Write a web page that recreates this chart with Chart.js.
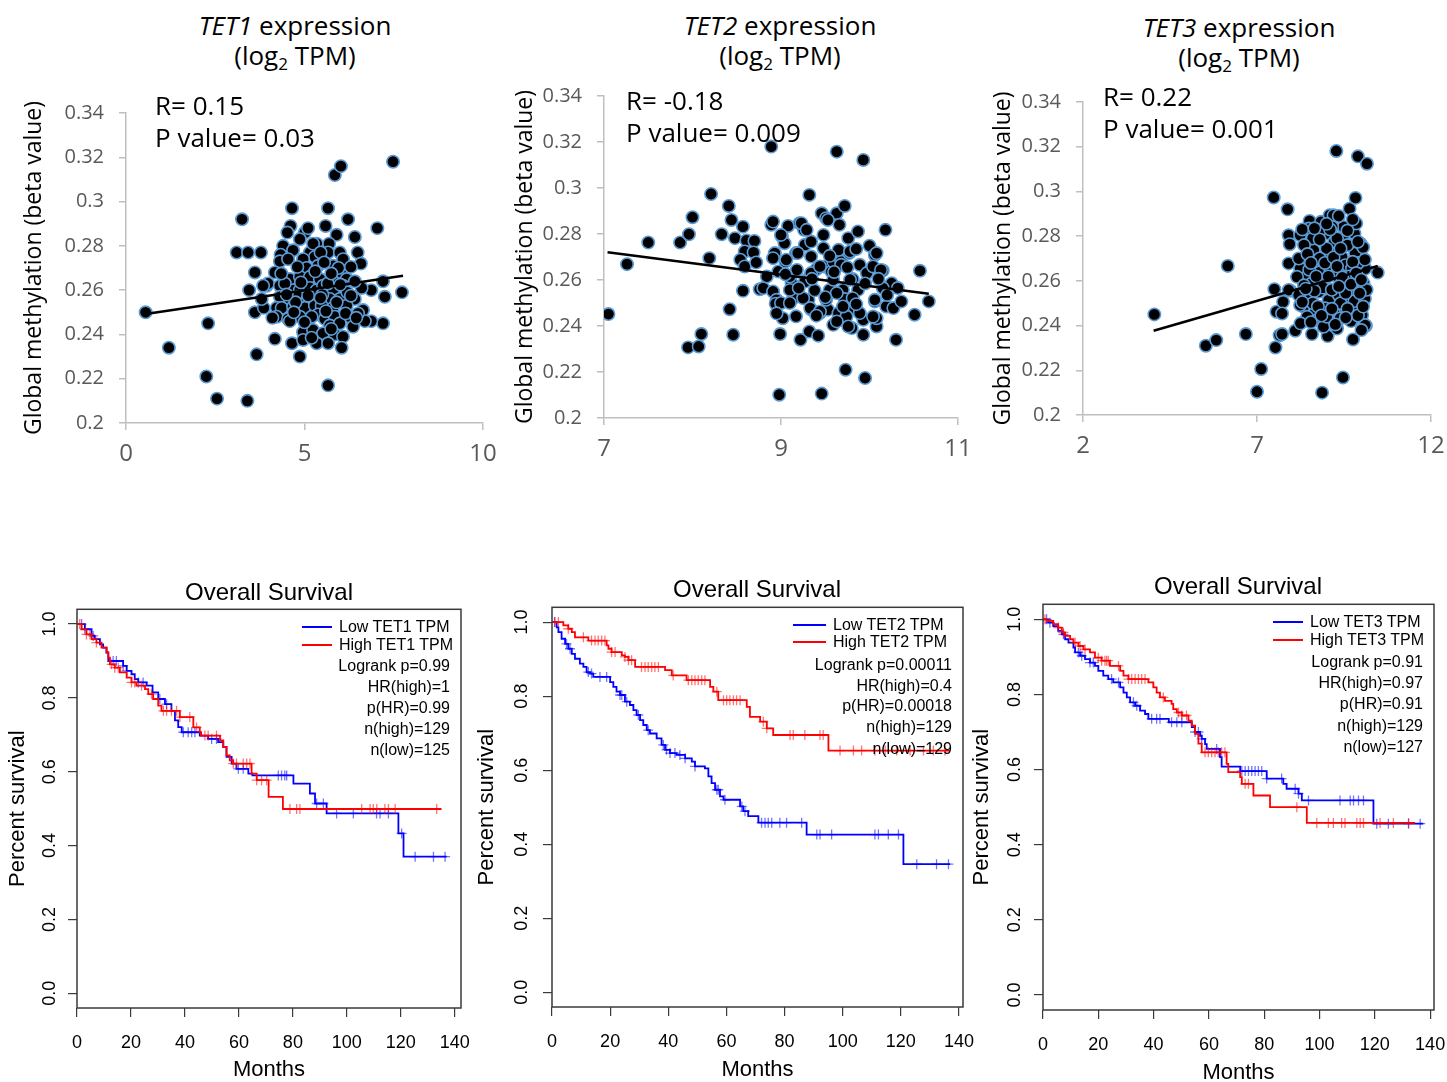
<!DOCTYPE html>
<html>
<head>
<meta charset="utf-8">
<title>TET expression, global methylation and overall survival</title>
<script src="https://cdn.jsdelivr.net/npm/chart.js"></script>
<style>
  html, body { margin: 0; padding: 0; background: #fff; width: 1447px; height: 1082px; overflow: hidden; }
  canvas { position: absolute; }
  .txt { position: absolute; white-space: nowrap; color: #000; }
  .sc { font-family: 'Open Sans', sans-serif; }
  .km { font-family: 'Liberation Sans', Arial, sans-serif; }
  .head { font-size: 26px; line-height: 30px; text-align: center; width: 300px; }
  .head sub { font-size: 17px; vertical-align: -5px; line-height: 0; }
  .stat { font-size: 26px; line-height: 32px; }
  .kmtitle { font-size: 24px; line-height: 28px; text-align: center; width: 300px; }
  .leg { font-size: 16px; line-height: 20px; }
</style>
</head>
<body>

<div class="txt sc head" style="left:145px; top:10px;"><i>TET1</i> expression<br>(log<sub>2</sub> TPM)</div>
<div class="txt sc head" style="left:630px; top:10px;"><i>TET2</i> expression<br>(log<sub>2</sub> TPM)</div>
<div class="txt sc head" style="left:1089px; top:12px;"><i>TET3</i> expression<br>(log<sub>2</sub> TPM)</div>

<canvas id="sc1"></canvas>
<canvas id="sc2"></canvas>
<canvas id="sc3"></canvas>
<canvas id="km1"></canvas>
<canvas id="km2"></canvas>
<canvas id="km3"></canvas>

<div class="txt sc stat" style="left:155px; top:89px;">R= 0.15<br>P value= 0.03</div>
<div class="txt sc stat" style="left:626px; top:84px;">R= -0.18<br>P value= 0.009</div>
<div class="txt sc stat" style="left:1103px; top:80px;">R= 0.22<br>P value= 0.001</div>

<div class="txt km kmtitle" style="left:119px; top:578px;">Overall Survival</div>
<div class="txt km kmtitle" style="left:607px; top:575px;">Overall Survival</div>
<div class="txt km kmtitle" style="left:1088px; top:572px;">Overall Survival</div>

<script>
// ---- methylation vs expression ----
const methTicks = [0.2, 0.22, 0.24, 0.26, 0.28, 0.3, 0.32, 0.34];
const tet1Ticks = [0, 5, 10];
const tet2Ticks = [7, 9, 11];
const tet3Ticks = [2, 7, 12];

const tet1Expr = [0.55,1.2,2.3,2.25,2.55,3.4,3.25,3.1,3.42,3.78,3.66,3.61,3.45,3.61,3.86,3.94,4.17,4.65,4.87,5.66,
  5.85,6.02,7.48,7.04,6.22,4.65,5.66,7.73,7.25,7.2,7.2,6.87,6.87,6.6,4.61,4.52,5.01,5.1,5.59,5.9,
  6.41,4.87,5.34,5.69,5.66,4.4,4.68,4.33,6.49,5.15,5.29,5.99,6.08,6.58,4.31,4.54,4.96,5.06,5.38,5.8,
  4.17,4.59,4.87,5.15,5.43,5.79,6.04,6.18,3.98,3.84,4.31,4.68,4.87,5.15,5.34,5.52,5.8,6.08,6.41,3.8,
  4.31,4.59,4.82,5.06,5.34,5.71,5.99,6.41,4.22,4.36,4.68,5.01,5.29,5.48,5.8,6.18,6.64,4.22,4.54,4.87,
  5.38,5.57,5.85,6.27,6.69,4.59,5.1,5.71,5.99,6.36,4.96,5.24,5.52,5.85,6.08,4.96,5.34,5.66,6.04,5.24,
  5.5,5.65,5.2,4.75,6.2,5.95,4.45,5.45,4.1,6.5,
  4.5,4.7,4.9,5.1,5.3,5.45,5.6,5.75,5.9,6.0,6.15,6.3,4.35,5.0,5.55,6.3,4.8,5.2,5.75,6.45];
const tet1Meth = [0.250,0.234,0.245,0.221,0.211,0.210,0.292,0.277,0.277,0.277,0.231,0.268,0.260,0.250,0.252,0.262,0.238,0.236,0.230,0.217,
  0.312,0.316,0.318,0.288,0.292,0.297,0.297,0.259,0.257,0.264,0.245,0.246,0.260,0.261,0.289,0.286,0.286,0.288,0.289,0.285,
  0.284,0.283,0.281,0.281,0.277,0.280,0.278,0.276,0.277,0.277,0.275,0.277,0.274,0.272,0.273,0.274,0.274,0.270,0.271,0.271,
  0.268,0.265,0.266,0.266,0.265,0.265,0.268,0.265,0.263,0.262,0.262,0.260,0.260,0.261,0.260,0.262,0.260,0.262,0.264,0.256,
  0.257,0.256,0.257,0.255,0.254,0.256,0.256,0.256,0.252,0.252,0.2525,0.252,0.253,0.253,0.252,0.253,0.251,0.248,0.247,0.248,
  0.249,0.247,0.248,0.248,0.246,0.246,0.244,0.244,0.245,0.2435,0.241,0.242,0.2405,0.240,0.239,0.2375,0.236,0.236,0.234,0.281,
  0.258,0.263,0.248,0.2545,0.259,0.270,0.263,0.277,0.2475,0.2495,
  0.258,0.250,0.2635,0.2575,0.2685,0.2565,0.2505,0.2675,0.2545,0.2625,0.2495,0.2575,0.2675,0.2455,0.2725,0.2705,0.2705,0.2385,0.2425,0.2475];
const tet1TrendX = [0.55, 7.76];
const tet1TrendY = [0.2492, 0.2665];

const tet2Expr = [7.05,7.26,7.5,7.86,7.96,8.0,7.95,8.07,8.1,8.19,8.21,8.33,8.41,8.44,8.42,8.46,8.48,8.57,8.57,8.61,
  8.7,8.59,8.69,8.54,8.59,8.72,8.76,8.8,8.89,8.89,8.91,8.84,8.93,8.91,8.97,8.95,8.94,8.99,8.98,9.02,
  9.01,9.04,9.05,9.08,9.12,9.14,9.17,9.17,9.17,9.22,9.21,9.26,9.27,9.29,9.31,9.32,9.32,9.34,9.34,9.38,
  9.4,9.42,9.44,9.46,9.46,9.48,9.48,9.51,9.49,9.53,9.55,9.57,9.59,9.59,9.59,9.63,9.63,9.66,9.68,9.72,
  9.7,9.72,9.73,9.73,9.76,9.77,9.8,9.81,9.83,9.87,9.87,9.89,9.93,9.93,9.95,9.93,9.97,10.0,10.06,10.06,
  10.08,10.08,10.15,10.18,10.19,10.25,10.27,10.3,10.32,10.36,10.51,10.57,10.67,9.1,9.18,9.27,9.34,9.44,9.68,9.78,
  10.04,10.13,9.1,9.25,9.51,9.63,9.81,10.06,10.15,9.0,9.1,9.33,9.44,9.65,9.74,9.89,10.04,9.63,9.76,8.91,
  9.06,9.19,9.34,9.65,9.78,10.08,9.53,9.0,9.23,9.29,
  9.2,9.35,9.5,9.6,9.75,9.85,9.95,10.1,9.4,9.55,9.85,9.05,8.95,10.2,9.7];
const tet2Meth = [0.2452,0.2669,0.2763,0.2763,0.2799,0.2873,0.2307,0.2311,0.2365,0.2695,0.2974,0.2799,0.2922,0.2861,0.2473,0.2362,0.2782,0.2832,0.2553,0.2772,
  0.277,0.2724,0.272,0.2688,0.2659,0.2676,0.256,0.2565,0.318,0.284,0.2854,0.2615,0.2717,0.255,0.2637,0.2514,0.2497,0.2365,0.2101,0.2434,
  0.2789,0.276,0.268,0.2835,0.2586,0.2521,0.2442,0.2717,0.2637,0.234,0.2847,0.2818,0.2753,0.2601,0.2514,0.297,0.2376,0.2702,0.2471,0.2555,
  0.2647,0.2358,0.2456,0.2106,0.289,0.2796,0.2738,0.2869,0.2659,0.2471,0.2557,0.2637,0.268,0.2601,0.2405,0.3158,0.289,0.284,0.268,0.2922,
  0.2557,0.2517,0.2442,0.221,0.2782,0.2717,0.2391,0.2604,0.2478,0.2811,0.2557,0.2666,0.3122,0.2362,0.2174,0.2427,0.263,0.2749,0.2709,0.2507,
  0.2398,0.2434,0.2641,0.2818,0.2485,0.2586,0.2478,0.234,0.2565,0.2507,0.2449,0.264,0.2507,0.2615,0.2644,0.2593,0.263,0.2659,0.2666,0.2601,
  0.2659,0.2644,0.2557,0.2521,0.2514,0.2543,0.2521,0.2514,0.2565,0.25,0.25,0.2478,0.2463,0.2456,0.2441,0.2456,0.2441,0.242,0.2398,0.2695,
  0.2688,0.2717,0.2767,0.2731,0.2724,0.2717,0.2861,0.2796,0.2847,0.2818,
  0.2565,0.2605,0.2525,0.2635,0.2655,0.2495,0.2585,0.2605,0.2445,0.2705,0.2735,0.2625,0.2455,0.2535,0.2485];
const tet2TrendX = [7.04, 10.67];
const tet2TrendY = [0.2721, 0.254];

const tet3Expr = [4.05,5.53,5.83,6.16,6.68,7.0,7.12,7.48,7.5,7.56,7.53,7.65,7.72,7.75,7.88,7.91,7.96,8.1,8.87,9.28,
  9.9,10.16,9.83,9.66,9.47,9.76,10.13,10.47,8.58,9.03,7.91,7.94,8.24,8.51,8.84,9.09,9.2,8.49,8.7,9.01,
  9.22,9.49,9.8,9.85,8.63,9.06,9.44,9.82,9.97,8.39,8.77,9.16,9.54,9.73,10.02,8.24,8.44,8.82,9.11,9.39,
  9.63,9.92,10.11,8.58,8.87,9.2,9.49,9.78,10.06,8.44,8.77,9.06,9.35,9.63,9.97,8.34,8.68,8.96,9.25,9.54,
  9.82,8.44,8.72,9.11,9.39,9.73,10.02,8.91,9.3,10.11,7.72,8.24,7.91,8.2,8.15,9.49,9.16,8.82,8.3,8.6,
  9.0,9.3,9.6,9.9,8.5,8.9,9.25,9.5,9.8,10.1,8.6,9.0,9.4,9.7,8.8,9.1,9.35,10.05,10.15,8.35,
  8.25,10.0,9.65,9.95,8.65,9.15,
  8.2,8.35,8.45,8.55,8.7,8.75,8.85,8.95,9.05,9.15,9.2,9.3,9.45,9.55,9.6,9.7,9.75,9.85,9.9,10.0,
  10.05,10.1,8.4,8.55,8.8,9.0,9.4,9.6,9.75,8.65,9.25,9.55,8.3,9.35,9.9];
const tet3Meth = [0.245,0.231,0.2335,0.2667,0.2362,0.2104,0.2206,0.2973,0.2563,0.2462,0.2302,0.2357,0.2362,0.2506,0.292,0.2678,0.2556,0.2377,0.21,0.3181,
  0.3157,0.3124,0.2971,0.2923,0.2168,0.2338,0.2399,0.2637,0.2362,0.2353,0.2804,0.2764,0.2804,0.2868,0.2864,0.2894,0.2893,0.2834,0.2782,0.2812,
  0.2774,0.2804,0.2812,0.2857,0.2737,0.273,0.2707,0.2723,0.2767,0.2693,0.2693,0.2678,0.267,0.2655,0.2648,0.2655,0.2618,0.264,0.2648,0.2626,
  0.2611,0.2603,0.2655,0.2589,0.2596,0.2559,0.2589,0.2544,0.2589,0.2529,0.2551,0.2514,0.2536,0.2506,0.2492,0.2484,0.2469,0.2477,0.2462,0.2477,
  0.2462,0.2439,0.2424,0.2417,0.2432,0.2424,0.2447,0.2395,0.2387,0.2402,0.2454,0.2492,0.2559,0.2536,0.2618,0.2841,0.2841,0.2827,0.283,0.279,
  0.2745,0.279,0.276,0.268,0.265,0.257,0.2625,0.258,0.251,0.252,0.25,0.244,0.25,0.242,0.27,0.283,0.289,0.275,0.256,0.258,
  0.241,0.238,0.262,0.2545,0.2555,0.2475,
  0.270,0.276,0.272,0.268,0.262,0.2485,0.2445,0.268,0.262,0.256,0.2705,0.2665,0.2615,0.2545,0.2475,0.2585,0.2685,0.2635,0.2445,0.2605,
  0.2485,0.2695,0.2565,0.2415,0.2785,0.2855,0.2745,0.2825,0.2875,0.2835,0.2405,0.2435,0.2505,0.2575,0.2775];
const tet3TrendX = [4.03, 10.47];
const tet3TrendY = [0.2377, 0.2667];

// ---- overall survival (Kaplan-Meier) ----
const monthTicks = [0, 20, 40, 60, 80, 100, 120, 140];
const survTicks = [0, 0.2, 0.4, 0.6, 0.8, 1.0];

const km1LowTime = [0,2.9,5.4,6.6,8.5,9.7,10.9,11.6,17.1,18.4,20.2,21.4,22.7,25.8,28.0,30.1,32.6,35.0,36.3,37.5,38.8,45.5,48.6,52.3,54.2,55.4,57.3,59.1,63.5,65.0,80.2,86.3,88.2,92.5,119.1,121.0,137.0];
const km1LowSurv = [1,0.986,0.968,0.959,0.945,0.936,0.923,0.900,0.887,0.873,0.864,0.851,0.842,0.833,0.815,0.797,0.783,0.765,0.739,0.721,0.707,0.698,0.689,0.680,0.667,0.640,0.622,0.608,0.595,0.590,0.568,0.541,0.514,0.487,0.433,0.370,0.370];
const km1LowCensor = [1.7,2.9,6.0,13.4,14.6,17.1,18.4,22.7,24.5,30.7,33.2,39.4,41.2,42.5,43.7,49.9,51.7,59.8,61.6,74.6,75.8,77.0,77.7,88.8,91.3,96.2,102.4,111.0,112.3,115.4,120.3,125.3,132.1,136.4];
const km1HighTime = [0,1.7,3.5,5.4,7.2,9.1,11.0,11.6,12.2,14.0,15.9,18.4,20.2,22.0,25.2,26.4,28.2,30.1,31.3,38.1,43.1,45.5,46.0,53.0,54.2,55.4,56.6,57.9,64.7,66.6,71.0,76.3,135.0];
const km1HighSurv = [1,0.986,0.972,0.959,0.950,0.936,0.923,0.909,0.891,0.882,0.869,0.855,0.842,0.833,0.824,0.810,0.797,0.779,0.765,0.748,0.720,0.707,0.698,0.685,0.667,0.644,0.631,0.622,0.595,0.577,0.532,0.499,0.499];
const km1HighCensor = [1.0,3.5,4.8,7.2,12.8,14.0,15.3,20.2,21.4,23.9,27.6,32.0,33.2,35.0,36.9,38.1,41.8,44.3,47.4,48.6,51.7,57.9,59.1,61.6,62.9,64.1,66.6,68.4,70.3,78.9,81.4,82.6,105.5,108.6,109.8,111.1,114.1,115.4,117.9,133.3];
const km1Stats = ['Logrank p=0.99', 'HR(high)=1', 'p(HR)=0.99', 'n(high)=129', 'n(low)=125'];

const km2LowTime = [0,1.6,2.2,3.3,4.5,5.6,6.8,7.9,9.6,10.8,11.9,13.1,14.2,20.0,21.1,22.2,23.4,25.1,26.8,28.0,29.1,30.3,31.4,32.6,33.7,36.0,37.7,38.9,40.6,42.9,45.8,48.1,49.2,52.6,53.8,54.9,56.1,57.8,59.0,64.7,65.8,67.5,71.0,87.6,120.9,137.0];
const km2LowSurv = [1,0.986,0.973,0.955,0.941,0.928,0.914,0.901,0.888,0.879,0.865,0.861,0.852,0.838,0.825,0.812,0.803,0.785,0.776,0.762,0.749,0.735,0.722,0.708,0.699,0.686,0.668,0.655,0.646,0.641,0.632,0.623,0.610,0.605,0.583,0.565,0.547,0.529,0.520,0.502,0.489,0.476,0.458,0.426,0.346,0.346];
const km2LowCensor = [0.9,5.0,6.2,12.5,13.6,16.5,18.8,23.4,24.0,25.7,29.7,33.1,38.3,39.4,40.6,42.3,44.0,45.8,49.2,56.7,57.2,59.5,65.3,66.4,72.1,73.3,74.4,75.6,78.4,80.7,85.9,91.1,92.2,96.2,111.1,112.3,115.7,119.2,125.5,132.3,136.4];
const km2HighTime = [0,3.9,5.6,6.8,7.9,12.5,18.8,19.4,20.5,24.0,25.1,26.3,28.6,38.9,41.2,46.3,54.4,55.5,57.2,67.0,68.1,71.6,73.9,76.1,95.1,137.0];
const km2HighSurv = [1,0.991,0.982,0.973,0.959,0.950,0.937,0.928,0.919,0.910,0.906,0.897,0.879,0.870,0.856,0.843,0.825,0.812,0.789,0.771,0.744,0.731,0.713,0.695,0.653,0.653];
const km2HighCensor = [1.0,2.2,5.6,10.8,13.6,14.8,15.9,17.1,18.2,20.5,21.7,25.1,26.3,27.4,30.8,32.0,33.1,34.3,35.4,36.6,41.7,46.9,48.1,49.2,50.3,51.5,52.6,56.7,59.0,60.1,61.2,62.4,63.5,64.7,72.7,73.9,81.9,83.0,87.0,92.2,93.3,99.1,103.7,106.5,111.1,114.6,118.6,123.2,127.8,131.2,135.2];
const km2Stats = ['Logrank p=0.00011', 'HR(high)=0.4', 'p(HR)=0.00018', 'n(high)=129', 'n(low)=129'];

const km3LowTime = [0,1.9,3.7,5.5,6.8,8.0,9.2,11.0,11.6,13.4,15.2,17.0,18.8,20.0,21.8,23.6,25.4,27.9,29.1,30.3,31.5,33.3,35.1,36.9,38.1,45.5,53.8,55.0,56.8,57.4,58.6,59.2,64.0,64.6,71.3,80.9,86.9,88.1,92.4,93.6,119.5,137.5];
const km3LowSurv = [1,0.991,0.982,0.969,0.960,0.947,0.938,0.925,0.912,0.903,0.894,0.885,0.876,0.863,0.850,0.841,0.832,0.819,0.805,0.792,0.779,0.770,0.757,0.748,0.735,0.726,0.713,0.700,0.690,0.682,0.668,0.655,0.633,0.608,0.596,0.576,0.562,0.549,0.536,0.518,0.456,0.456];
const km3LowCensor = [1.3,2.5,7.4,12.8,14.0,17.0,18.2,24.8,27.3,32.7,33.9,39.3,41.1,42.3,46.5,48.4,50.2,55.0,56.2,57.4,62.8,71.9,73.1,74.3,75.5,76.7,77.9,79.1,80.9,86.3,91.2,92.4,96.0,107.4,111.1,112.3,114.1,115.9,120.7,124.9,132.2,136.4];
const km3HighTime = [0,1.3,3.7,5.5,6.8,8.0,9.8,11.0,12.8,14.6,17.0,18.8,21.2,24.2,27.9,29.1,30.9,38.1,39.9,41.1,42.3,44.1,46.5,47.1,48.4,50.2,52.6,53.8,55.0,56.2,57.4,66.4,67.0,71.3,71.9,76.1,82.1,95.4,134.6];
const km3HighSurv = [1,0.996,0.987,0.978,0.965,0.956,0.947,0.938,0.929,0.920,0.912,0.898,0.890,0.876,0.863,0.850,0.841,0.832,0.819,0.805,0.792,0.783,0.775,0.761,0.752,0.744,0.730,0.717,0.695,0.669,0.646,0.615,0.593,0.580,0.562,0.531,0.500,0.458,0.458];
const km3HighCensor = [0.7,5.5,7.4,11.6,13.4,15.2,20.0,21.2,22.4,23.0,23.6,27.3,30.9,32.1,33.3,34.5,35.7,36.9,43.5,49.0,50.2,51.9,58.6,59.8,61.0,62.2,63.4,64.6,65.8,73.1,74.3,91.8,99.0,103.2,105.0,108.0,109.2,113.5,114.7,115.9,121.9,126.7,132.2];
const km3Stats = ['Logrank p=0.91', 'HR(high)=0.97', 'p(HR)=0.91', 'n(high)=129', 'n(low)=127'];

const LOW_BLUE = '#0000ff';
const HIGH_RED = '#ff0000';

function setCanvas(cv, left, top, right, bottom) {
  cv.style.left = left + 'px';
  cv.style.top = top + 'px';
  cv.width = right - left;
  cv.height = bottom - top;
}

function scatterPanel(id, box, yAxisW, xs, ys, trendX, trendY, xTicks, yTitle) {
  const cv = document.getElementById(id);
  // top padding must cover half a tick label plus the tick padding
  const padTop = 28, padRight = 30, xAxisH = 50;
  setCanvas(cv, box.left - yAxisW, box.top - padTop, box.right + padRight, box.bottom + xAxisH);

  const axisGrey = '#bfbfbf';
  new Chart(cv, {
    type: 'scatter',
    data: {
      datasets: [
        {
          data: trendX.map((x, i) => ({ x, y: trendY[i] })),
          showLine: true,
          borderColor: '#000',
          borderWidth: 2.6,
          pointRadius: 0,
          order: 0
        },
        {
          data: xs.map((x, i) => ({ x, y: ys[i] })),
          pointRadius: 6.2,
          pointBackgroundColor: '#000',
          pointBorderColor: '#5b9bd5',
          pointBorderWidth: 1.6,
          order: 1
        }
      ]
    },
    options: {
      responsive: false,
      animation: false,
      events: [],
      layout: { padding: { left: 0, top: padTop, right: padRight, bottom: 0 } },
      plugins: { legend: { display: false }, tooltip: { enabled: false } },
      scales: {
        x: {
          type: 'linear',
          min: xTicks[0],
          max: xTicks[xTicks.length - 1],
          afterBuildTicks: (axis) => { axis.ticks = xTicks.map(v => ({ value: v })); },
          afterFit: (axis) => { axis.height = xAxisH; },
          grid: { drawOnChartArea: false, drawTicks: true, tickLength: 7, color: axisGrey, lineWidth: 1.5 },
          border: { display: true, color: axisGrey, width: 1.5 },
          ticks: { color: '#595959', font: { family: 'Open Sans', size: 24 }, padding: 10, maxRotation: 0, autoSkip: false }
        },
        y: {
          type: 'linear',
          min: methTicks[0],
          max: methTicks[methTicks.length - 1],
          afterBuildTicks: (axis) => { axis.ticks = methTicks.map(v => ({ value: v })); },
          afterFit: (axis) => { axis.width = yAxisW; },
          grid: { drawOnChartArea: false, drawTicks: true, tickLength: 7, color: axisGrey, lineWidth: 1.5 },
          border: { display: true, color: axisGrey, width: 1.5 },
          ticks: {
            color: '#595959',
            font: { family: 'Open Sans', size: 20 },
            padding: 15,
            autoSkip: false,
            callback: (v) => String(parseFloat(Number(v).toFixed(2)))
          },
          title: { display: true, text: yTitle, color: '#000', font: { family: 'Open Sans', size: 23 }, padding: 0 }
        }
      }
    }
  });
}

function survAt(times, surv, t) {
  let s = surv[0];
  for (let i = 0; i < times.length; i++) {
    if (times[i] <= t) s = surv[i];
  }
  return s;
}

const frame = {
  id: 'frame',
  afterDatasetsDraw(chart) {
    const { ctx, chartArea: a } = chart;
    ctx.save();
    ctx.strokeStyle = '#3a3a3a';
    ctx.lineWidth = 1.5;
    ctx.strokeRect(a.left, a.top, a.right - a.left, a.bottom - a.top);
    ctx.restore();
  }
};

// survival tick labels run along the axis, as in base R plots
function survLabels(offset) {
  return {
    id: 'survLabels',
    afterDraw(chart) {
      const { ctx, chartArea } = chart;
      const y = chart.scales.y;
      ctx.save();
      ctx.font = '18px "Liberation Sans", Arial, sans-serif';
      ctx.fillStyle = '#000';
      ctx.textAlign = 'center';
      ctx.textBaseline = 'middle';
      y.ticks.forEach(t => {
        ctx.save();
        ctx.translate(chartArea.left - offset, y.getPixelForValue(t.value));
        ctx.rotate(-Math.PI / 2);
        ctx.fillText(t.value.toFixed(1), 0, 0);
        ctx.restore();
      });
      ctx.restore();
    }
  };
}

function survivalPanel(id, box, yAxisW, xAxisH, xMax, labelOffset, low, high) {
  const cv = document.getElementById(id);
  const padTop = 5, padRight = 30;
  setCanvas(cv, box.left - yAxisW, box.top - padTop, box.right + padRight, box.bottom + xAxisH);

  const curve = (g, color, order) => ({
    data: g.time.map((t, i) => ({ x: t, y: g.surv[i] })),
    stepped: true,
    borderColor: color,
    borderWidth: 1.8,
    pointRadius: 0,
    fill: false,
    order
  });
  const marks = (g, color, order) => ({
    data: g.censor.map(t => ({ x: t, y: survAt(g.time, g.surv, t) })),
    showLine: false,
    pointStyle: 'cross',
    pointRadius: 5,
    pointBorderColor: color,
    pointBorderWidth: 1.3,
    order
  });

  new Chart(cv, {
    type: 'line',
    data: {
      datasets: [
        curve(high, HIGH_RED, 1),
        marks(high, 'rgba(255,0,0,0.55)', 1),
        curve(low, LOW_BLUE, 2),
        marks(low, 'rgba(0,0,255,0.55)', 2)
      ]
    },
    options: {
      responsive: false,
      animation: false,
      events: [],
      layout: { padding: { left: 0, top: padTop, right: padRight, bottom: 0 } },
      plugins: { legend: { display: false }, tooltip: { enabled: false } },
      scales: {
        x: {
          type: 'linear',
          min: 0,
          max: xMax,
          afterBuildTicks: (axis) => { axis.ticks = monthTicks.map(v => ({ value: v })); },
          afterFit: (axis) => { axis.height = xAxisH; },
          grid: { drawOnChartArea: false, drawTicks: true, tickLength: 9, color: '#3a3a3a', lineWidth: 1.2 },
          border: { display: false },
          ticks: { color: '#000', font: { family: 'Liberation Sans', size: 18 }, padding: 15, maxRotation: 0, autoSkip: false },
          title: { display: true, text: 'Months', color: '#000', font: { family: 'Liberation Sans', size: 22 }, padding: 0 }
        },
        y: {
          type: 'linear',
          min: -0.04,
          max: 1.04,
          afterBuildTicks: (axis) => { axis.ticks = survTicks.map(v => ({ value: v })); },
          afterFit: (axis) => { axis.width = yAxisW; },
          grid: { drawOnChartArea: false, drawTicks: true, tickLength: 9, color: '#3a3a3a', lineWidth: 1.2 },
          border: { display: false },
          ticks: { display: false },
          title: { display: true, text: 'Percent survival', color: '#000', font: { family: 'Liberation Sans', size: 22 }, padding: 0 }
        }
      }
    },
    plugins: [frame, survLabels(labelOffset)]
  });
}

function addText(cls, text, left, top, extra) {
  const d = document.createElement('div');
  d.className = 'txt km ' + cls;
  d.textContent = text;
  d.style.left = left + 'px';
  d.style.top = top + 'px';
  if (extra) Object.assign(d.style, extra);
  document.body.appendChild(d);
}

function survivalLegend(gene, lg, stats) {
  [[LOW_BLUE, 'Low ' + gene + ' TPM', lg.yLow], [HIGH_RED, 'High ' + gene + ' TPM', lg.yHigh]].forEach(([c, label, y]) => {
    const sw = document.createElement('div');
    Object.assign(sw.style, {
      position: 'absolute', left: lg.lineL + 'px', top: (y - 1) + 'px',
      width: (lg.lineR - lg.lineL) + 'px', height: '2px', background: c
    });
    document.body.appendChild(sw);
    addText('leg', label, lg.textL, y - 10);
  });
  stats.forEach((s, i) => {
    addText('leg', s, lg.statsR - 250, lg.statsY[i] - 10, { width: '250px', textAlign: 'right' });
  });
}

scatterPanel('sc1', { left: 126, top: 113, right: 483, bottom: 423 }, 105, tet1Expr, tet1Meth, tet1TrendX, tet1TrendY, tet1Ticks, 'Global methylation (beta value)');
scatterPanel('sc2', { left: 604, top: 96, right: 958, bottom: 418 }, 92, tet2Expr, tet2Meth, tet2TrendX, tet2TrendY, tet2Ticks, 'Global methylation (beta value)');
scatterPanel('sc3', { left: 1083, top: 102, right: 1431, bottom: 415 }, 93, tet3Expr, tet3Meth, tet3TrendX, tet3TrendY, tet3Ticks, 'Global methylation (beta value)');

survivalPanel('km1', { left: 77, top: 608, right: 461, bottom: 1008 }, 72, 75, 142.3, 27,
  { time: km1LowTime, surv: km1LowSurv, censor: km1LowCensor },
  { time: km1HighTime, surv: km1HighSurv, censor: km1HighCensor });
survivalPanel('km2', { left: 552, top: 606, right: 963, bottom: 1007 }, 78, 76, 141.4, 30,
  { time: km2LowTime, surv: km2LowSurv, censor: km2LowCensor },
  { time: km2HighTime, surv: km2HighSurv, censor: km2HighCensor });
survivalPanel('km3', { left: 1043, top: 603, right: 1434, bottom: 1010 }, 74, 76, 141.4, 28,
  { time: km3LowTime, surv: km3LowSurv, censor: km3LowCensor },
  { time: km3HighTime, surv: km3HighSurv, censor: km3HighCensor });

survivalLegend('TET1', { lineL: 302, lineR: 332, textL: 339, yLow: 627, yHigh: 645, statsR: 450, statsY: [666, 687, 708, 729, 750] }, km1Stats);
survivalLegend('TET2', { lineL: 793, lineR: 826, textL: 833, yLow: 625, yHigh: 642, statsR: 952, statsY: [665, 686, 706, 727, 749] }, km2Stats);
survivalLegend('TET3', { lineL: 1273, lineR: 1303, textL: 1310, yLow: 622, yHigh: 640, statsR: 1423, statsY: [662, 683, 704, 726, 747] }, km3Stats);
</script>
</body>
</html>
